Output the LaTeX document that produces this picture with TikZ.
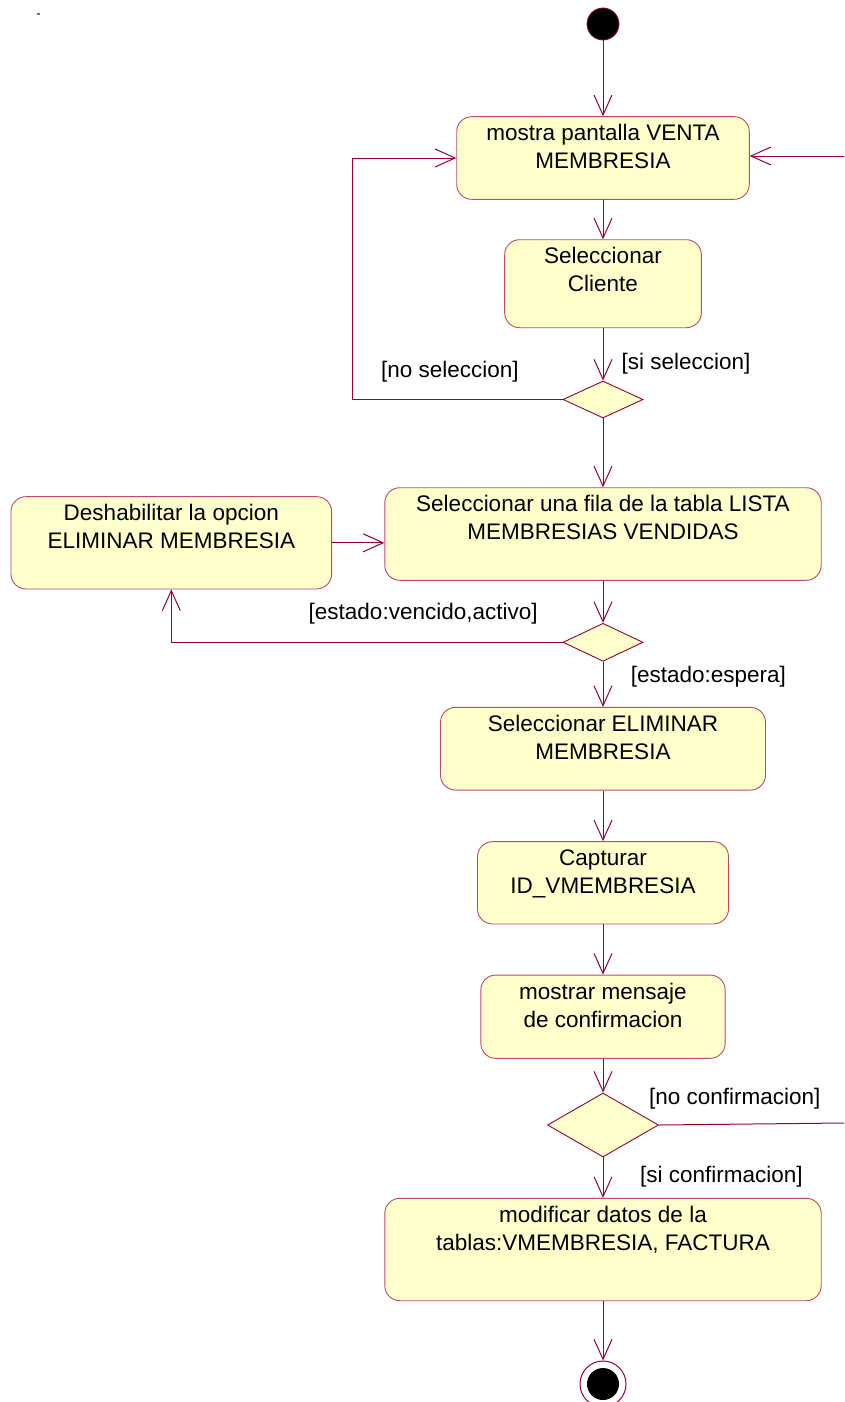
\documentclass[tikz,border=0pt]{standalone}
\usepackage{fontspec}
\setmainfont{Liberation Sans}
\usetikzlibrary{arrows.meta,shapes.geometric,calc}
\definecolor{umlline}{RGB}{153,0,51}
\definecolor{umlborder}{RGB}{192,72,110}
\definecolor{umlfill}{RGB}{255,255,204}
\begin{document}
\begin{tikzpicture}[x=1pt,y=-1pt,
  actbox/.style={draw=umlborder, fill=umlfill, rounded corners=15pt, line width=0.9pt, inner sep=0pt},
  acttext/.style={font=\fontsize{22.5}{28}\selectfont, align=center, inner sep=0pt, anchor=base, text=black},
  decision/.style={diamond, draw=umlline, fill=umlfill, inner sep=0pt, line width=0.9pt},
  guard/.style={font=\fontsize{22.5}{28}\selectfont, inner sep=0pt, anchor=west, text=black},
  flow/.style={draw=umlline, line width=1pt, -{Straight Barb[length=20pt,width=18pt,line width=1pt]}},
  plainflow/.style={draw=umlline, line width=1pt}]
\useasboundingbox (0,0) rectangle (844,1402);
\fill[umlline!70] (37,13.5) rectangle (40,15.5);

% initial node
\node[circle, fill=black, draw=umlline, line width=0.8pt, minimum size=32pt, inner sep=0pt] (start) at (603,24) {};

% activities
\node[actbox, minimum width=292.6pt, minimum height=82.6pt] (b1) at (603,158) {};
\node[acttext] (t1) at ($(b1.north)+(0,52.5)$) {mostra pantalla VENTA\\MEMBRESIA};

\node[actbox, minimum width=196.7pt, minimum height=88pt] (b2) at (603,283.7) {};
\node[acttext] (t2) at ($(b2.north)+(0,52.5)$) {Seleccionar\\Cliente};

\node[decision, minimum width=80pt, minimum height=37pt] (d1) at (603,399.5) {};

\node[actbox, minimum width=436.4pt, minimum height=92.6pt] (b3) at (603,534) {};
\node[acttext] (t3) at ($(b3.north)+(0,52.5)$) {Seleccionar una fila de la tabla LISTA\\MEMBRESIAS VENDIDAS};

\node[actbox, minimum width=320.7pt, minimum height=92.3pt] (b4) at (171.3,542.8) {};
\node[acttext] (t4) at ($(b4.north)+(0,52.5)$) {Deshabilitar la opcion\\ELIMINAR MEMBRESIA};

\node[decision, minimum width=80pt, minimum height=38pt] (d2) at (603,642.3) {};

\node[actbox, minimum width=325pt, minimum height=82.7pt] (b5) at (603,748.7) {};
\node[acttext] (t5) at ($(b5.north)+(0,52.5)$) {Seleccionar ELIMINAR\\MEMBRESIA};

\node[actbox, minimum width=251pt, minimum height=82.3pt] (b6) at (603,882.8) {};
\node[acttext] (t6) at ($(b6.north)+(0,52.5)$) {Capturar\\ID\_VMEMBRESIA};

\node[actbox, minimum width=244.3pt, minimum height=83.3pt] (b7) at (603,1016.7) {};
\node[acttext] (t7) at ($(b7.north)+(0,52.5)$) {mostrar mensaje\\de confirmacion};

\node[decision, minimum width=111pt, minimum height=64pt] (d3) at (603,1125) {};

\node[actbox, minimum width=436.4pt, minimum height=102.4pt] (b8) at (603,1249.5) {};
\node[acttext] (t8) at ($(b8.north)+(0,52.5)$) {modificar datos de la\\tablas:VMEMBRESIA, FACTURA};

% final node
\node[circle, draw=umlline, line width=1pt, minimum size=46pt, inner sep=0pt] (endo) at (603,1384) {};
\node[circle, fill=black, minimum size=32pt, inner sep=0pt] (endi) at (603,1384) {};

% coordinates for free ends
\coordinate (loopA) at (352,0);
\coordinate (exitR) at (844,1123);
\coordinate (entryR) at (844,156);

% flows
\draw[flow] (start) -- (b1);
\draw[flow] (b1) -- (b2);
\draw[flow] (b2) -- (d1);
\draw[flow] (d1) -- (b3);
\draw[flow] (b3) -- (d2);
\draw[flow] (d2) -- (b5);
\draw[flow] (b5) -- (b6);
\draw[flow] (b6) -- (b7);
\draw[flow] (b7) -- (d3);
\draw[flow] (d3) -- (b8);
\draw[flow] (b8) -- (endo);
\draw[flow] (d1.west) -- (d1.west -| loopA) |- (b1.west);
\draw[flow] (d2.west) -| (b4.south);
\draw[flow] (b4.east) -- (b4.east -| b3.west);
\draw[plainflow] (d3.east) -- (exitR);
\draw[flow] (entryR) -- (entryR -| b1.east);

% guards
\node[guard] (g1) at (621.5,363.5) {[si seleccion]};
\node[guard] (g2) at (381,372) {[no seleccion]};
\node[guard] (g3) at (308.5,613.5) {[estado:vencido,activo]};
\node[guard] (g4) at (630.7,677) {[estado:espera]};
\node[guard] (g5) at (649,1098.5) {[no confirmacion]};
\node[guard] (g6) at (640,1177) {[si confirmacion]};
\end{tikzpicture}
\end{document}
